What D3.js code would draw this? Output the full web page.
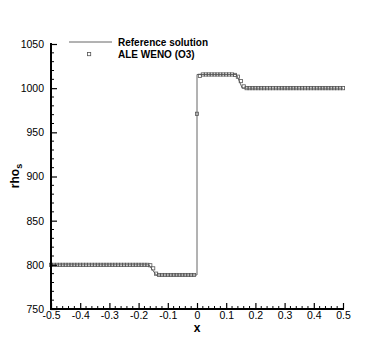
<!DOCTYPE html>
<html><head><meta charset="utf-8">
<script src="https://cdn.jsdelivr.net/npm/d3@7"></script>
<style>body{margin:0;background:#fff}svg{font-family:"Liberation Sans",Arial,sans-serif}</style>
</head><body><svg id="c" width="390" height="347"></svg>
<script>
const cellX = [-0.50,-0.49,-0.48,-0.47,-0.46,-0.45,-0.44,-0.43,-0.42,-0.41,-0.40,-0.39,-0.38,-0.37,-0.36,-0.35,-0.34,-0.33,-0.32,-0.31,-0.30,-0.29,-0.28,-0.27,-0.26,-0.25,-0.24,-0.23,-0.22,-0.21,-0.20,-0.19,-0.18,-0.17,-0.16,-0.15,-0.14,-0.13,-0.12,-0.11,-0.10,-0.09,-0.08,-0.07,-0.06,-0.05,-0.04,-0.03,-0.02,-0.01,0.00,0.01,0.02,0.03,0.04,0.05,0.06,0.07,0.08,0.09,0.10,0.11,0.12,0.13,0.14,0.15,0.16,0.17,0.18,0.19,0.20,0.21,0.22,0.23,0.24,0.25,0.26,0.27,0.28,0.29,0.30,0.31,0.32,0.33,0.34,0.35,0.36,0.37,0.38,0.39,0.40,0.41,0.42,0.43,0.44,0.45,0.46,0.47,0.48,0.49,0.50];
const weno = [800,800,800,800,800,800,800,800,800,800,800,800,800,800,800,800,800,800,800,800,800,800,800,800,800,800,800,800,800,800,800,800,800,800,799.5,796,790,788.5,788.5,788.5,788.5,788.5,788.5,788.5,788.5,788.5,788.5,788.5,788.5,788.5,971,1014,1015.5,1015.5,1015.5,1015.5,1015.5,1015.5,1015.5,1015.5,1015.5,1015.5,1015.5,1015,1013,1008,1002,1000,1000,1000,1000,1000,1000,1000,1000,1000,1000,1000,1000,1000,1000,1000,1000,1000,1000,1000,1000,1000,1000,1000,1000,1000,1000,1000,1000,1000,1000,1000,1000,1000,1000,1000];
const refX = [-0.5,-0.165,-0.14,0,0,0.135,0.155,0.5];
const refY = [800,800,788.5,788.5,1015.5,1015.5,1000,1000];
const xTicks = [-0.5,-0.4,-0.3,-0.2,-0.1,0,0.1,0.2,0.3,0.4,0.5];
const xTickLabels = ["-0.5","-0.4","-0.3","-0.2","-0.1","0","0.1","0.2","0.3","0.4","0.5"];
const yTicks = [750,800,850,900,950,1000,1050];
const legendLabels = ["Reference solution","ALE WENO (O3)"];

const svg = d3.select("#c");
const x = d3.scaleLinear().domain([-0.5,0.5]).range([51,343]);
const y = d3.scaleLinear().domain([750,1050]).range([309,44]);

svg.append("path").datum(refX.map((v,i)=>[v,refY[i]]))
  .attr("fill","none").attr("stroke","#666").attr("stroke-width",1)
  .attr("d", d3.line().x(d=>x(d[0])).y(d=>y(d[1])));

svg.append("g").selectAll("rect").data(cellX.map((v,i)=>[v,weno[i]])).join("rect")
  .attr("x",d=>x(d[0])-1.6).attr("y",d=>y(d[1])-1.6).attr("width",3.2).attr("height",3.2)
  .attr("fill","none").attr("stroke","#555").attr("stroke-width",0.8);

const xMinor = d3.range(-50,51,2).map(v=>v/100).filter(v=>!xTicks.some(t=>Math.abs(t-v)<1e-9));
const yMinor = d3.range(750,1051,10).filter(v=>!yTicks.includes(v));
const gx = svg.append("g").attr("transform","translate(0,309)");
gx.call(d3.axisBottom(x).tickValues(xTicks).tickSize(-6).tickPadding(3).tickFormat((d,i)=>xTickLabels[i]));
gx.select(".domain").remove();
gx.selectAll(".tick line").attr("stroke","#000").attr("stroke-width",1.2);
gx.selectAll(".tick text").attr("font-size",10.5).attr("fill","#000").attr("dy","0.75em").attr("y",2);
gx.append("g").selectAll("line").data(xMinor).join("line")
  .attr("x1",d=>x(d)).attr("x2",d=>x(d)).attr("y1",0).attr("y2",-3).attr("stroke","#000").attr("stroke-width",1);
gx.append("line").attr("x1",50).attr("x2",344).attr("y1",0).attr("y2",0).attr("stroke","#000").attr("stroke-width",2);

const gy = svg.append("g").attr("transform","translate(51,0)");
gy.call(d3.axisLeft(y).tickValues(yTicks).tickSize(-6).tickPadding(4).tickFormat(d3.format("d")));
gy.select(".domain").remove();
gy.selectAll(".tick line").attr("stroke","#000").attr("stroke-width",1.2);
gy.selectAll(".tick text").attr("font-size",10.5).attr("fill","#000").attr("x",-7);
gy.append("g").selectAll("line").data(yMinor).join("line")
  .attr("y1",d=>y(d)).attr("y2",d=>y(d)).attr("x1",0).attr("x2",3).attr("stroke","#000").attr("stroke-width",1);
gy.append("line").attr("x1",0).attr("x2",0).attr("y1",43).attr("y2",310).attr("stroke","#000").attr("stroke-width",2);

svg.append("text").attr("x",197).attr("y",332).attr("text-anchor","middle")
  .attr("font-size",12).attr("font-weight","bold").text("x");
const yt = svg.append("text").attr("transform","translate(19,176) rotate(-90)").attr("text-anchor","middle")
  .attr("font-size",12).attr("font-weight","bold");
yt.append("tspan").text("rho");
yt.append("tspan").attr("font-size",9).attr("dy",3).text("s");

svg.append("line").attr("x1",69).attr("x2",112).attr("y1",42).attr("y2",42).attr("stroke","#666").attr("stroke-width",1);
svg.append("rect").attr("x",87.5).attr("y",52.5).attr("width",3.2).attr("height",3.2).attr("fill","none").attr("stroke","#555").attr("stroke-width",0.8);
svg.selectAll("text.leg").data(legendLabels).join("text").attr("class","leg")
  .attr("x",118).attr("y",(d,i)=>46+i*12).attr("font-size",10).attr("font-weight","bold").text(d=>d);
</script></body></html>
